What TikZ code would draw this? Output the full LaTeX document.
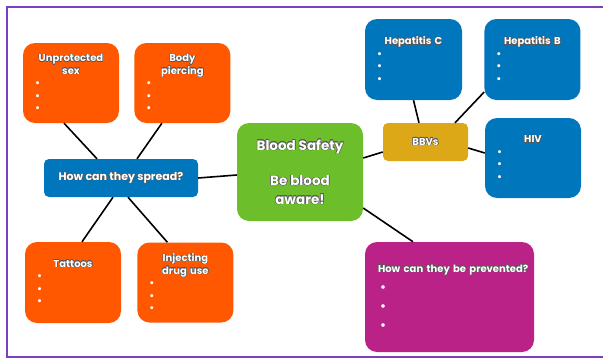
\documentclass[tikz,border=0pt]{standalone}
\usepackage{fontspec}
\setmainfont{Poppins}
\usepackage{xcolor}
\usepackage{tikz}
\usepackage{contour}
\usetikzlibrary{shapes,positioning}
\contourlength{0.4pt}
\contournumber{16}
\newcommand{\ol}[1]{\contour{black!65}{#1}}
\definecolor{bbvorange}{RGB}{255,88,0}
\definecolor{bbvblue}{RGB}{0,119,188}
\definecolor{bbvgreen}{RGB}{108,190,42}
\definecolor{bbvgold}{RGB}{220,168,24}
\definecolor{bbvpink}{RGB}{187,34,135}
\definecolor{bbvframe}{RGB}{123,63,191}

\begin{document}
\begin{tikzpicture}[x=1pt, y=-1pt,
    card/.style={rectangle, rounded corners=12pt, inner sep=0pt, text=white,
        font=\bfseries\fontsize{10}{12.5}\selectfont, align=left,
        minimum width=96pt, minimum height=80pt, text width=72pt},
    orangecard/.style={card, fill=bbvorange},
    bluecard/.style={card, fill=bbvblue},
    hub/.style={rectangle, rounded corners=5pt, text=white, inner sep=0pt, align=center},
    link/.style={line width=1.6pt, black},
    frameline/.style={bbvframe, line width=2pt}
]
\useasboundingbox (0,0) rectangle (603,359);
\draw[frameline] (6,6.5) -- (603,6.5);
\draw[frameline] (6,356.5) -- (603,356.5);
\draw[frameline] (7,6.5) -- (7,356.5);

% centre
\node[hub, fill=bbvgreen, rounded corners=12pt, minimum width=126pt, minimum height=98pt,
    font=\bfseries\fontsize{13.5}{18.5}\selectfont] (blood) at (300,172)
    {\ol{Blood Safety}\\[17pt]\ol{Be blood}\\\ol{aware!}};

% how they spread
\node[hub, fill=bbvblue, minimum width=154pt, minimum height=38pt,
    font=\bfseries\fontsize{11}{12}\selectfont] (spread) at (121,178) {\ol{How can they spread?}};
\node[orangecard] (unprot) at (71,83)
    {{\centering\ol{Unprotected}\\\ol{sex}\par}\textbullet\\\textbullet\\\textbullet};
\node[orangecard, right=15pt of unprot] (piercing)
    {{\centering\ol{Body}\\\ol{piercing}\par}\textbullet\\\textbullet\\\textbullet};
\node[orangecard, minimum height=81pt] (tattoos) at (73,282.5)
    {{\centering\ol{Tattoos}\par}\textbullet\\\textbullet\\\textbullet};
\node[orangecard, right=16pt of tattoos] (inject)
    {{\centering\ol{Injecting}\\\ol{drug use}\par}\textbullet\\\textbullet\\\textbullet};

% the viruses
\node[hub, fill=bbvgold, minimum width=85pt, minimum height=38pt,
    font=\bfseries\fontsize{10}{11}\selectfont] (bbvs) at (425.5,142) {\ol{BBVs}};
\node[bluecard, minimum width=97pt, minimum height=81pt, text width=73pt] (hepc) at (413.5,59.5)
    {{\centering\ol{Hepatitis C}\par}\textbullet\\\textbullet\\\textbullet};
\node[bluecard, minimum height=81pt, right=22pt of hepc] (hepb)
    {{\centering\ol{Hepatitis B}\par}\textbullet\\\textbullet\\\textbullet};
\node[bluecard] (hiv) at (533,158)
    {{\centering\ol{HIV}\par}\textbullet\\\textbullet\\\textbullet};

% prevention
\node[card, fill=bbvpink, minimum width=169pt, minimum height=110pt, text width=143pt,
    font=\bfseries\fontsize{10}{19}\selectfont] (prevent) at (449.5,297)
    {\ol{How can they be prevented?}\\\hspace*{2pt}{\large\textbullet}\\\hspace*{2pt}{\large\textbullet}\\\hspace*{2pt}{\large\textbullet}};

\draw[link] ([xshift=-7pt]unprot.south) -- ([xshift=-24pt]spread.north);
\draw[link] ([xshift=-20.5pt]piercing.south) -- ([xshift=16pt]spread.north);
\draw[link] ([xshift=-8pt]spread.south) -- ([xshift=9pt]tattoos.north);
\draw[link] ([xshift=7pt]spread.south) -- ([xshift=-18pt]inject.north);
\draw[link] (spread.east) -- ([yshift=-3pt]blood.west);
\draw[link] ([yshift=14pt]blood.east) -- ([yshift=-10pt]bbvs.west);
\draw[link] ([xshift=-6.5pt]bbvs.north) -- (hepc.south);
\draw[link] ([xshift=29.5pt]bbvs.north) -- ([yshift=-32.5pt]hepb.west);
\draw[link] ([yshift=-6pt]bbvs.east) -- ([yshift=5pt]hiv.west);
\draw[link] ([yshift=-36pt]blood.east) -- ([xshift=-36.5pt]prevent.north);
\end{tikzpicture}
\end{document}
